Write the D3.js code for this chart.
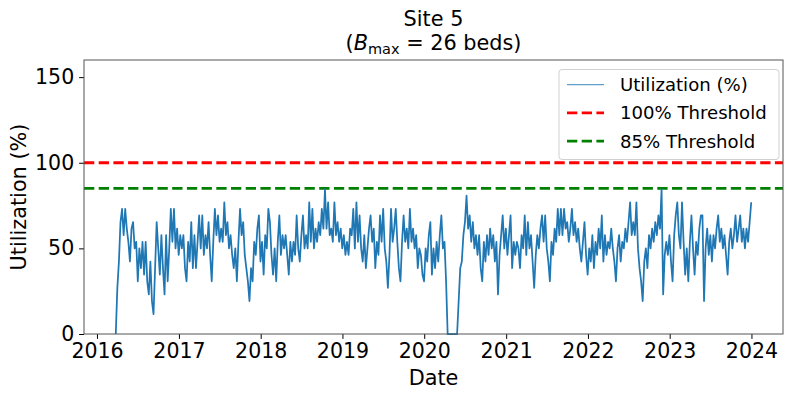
<!DOCTYPE html>
<html><head><meta charset="utf-8">
<script src="https://cdn.jsdelivr.net/npm/d3@7"></script>
<style>body{margin:0;background:#fff} svg{display:block} text{font-family:"DejaVu Sans",sans-serif;fill:#000}</style>
</head><body><svg id="chart" width="793" height="397"></svg>
<script>
// ---- data ----
const BED_MAX = 26;
const startDate = "2016-03-25";
const endDate = "2023-12-31";
// occupied beds, roughly weekly samples
const bedsPart1 = [0,7,11,17,19,15,19,16,14,11,16,17,13,14,8,13,10,14,9,14,8,6,11,5,3,10,17,13,9,15,10,6,15,8,13,19,14,19,13,16,12,15,13,15];
const bedsPart2 = [10,8,14,11,17,10,15,10,14,18,13,18,12,15,13,17,12,8,14,19,15,18,14,16,14,20,15,17,13,15,12,10,13,8,14,19,15,17,12,10,8,5,10,8,14,12,16,18,11,14,9,15,13,19];
const bedsPart3 = [17,12,9,13,8,14,18,12,15,13,15,12,9,14,11,14,12,18,13,11,15,18,13,15,13,20,14,19,13,16,14,17,15,19,16,22,16,20,15,16,14,20,15,17,14,16,13,15,12,14,12,16,15,19];
const bedsPart4 = [13,20,14,18,13,11,15,10,13,16,18,14,16,10,14,12,18,14,19,13,11,7,12,19,14,16,19,14,10,8,14,18,14,16,13,19,14,16,13,15,10,13,12,9,8,13,11,15,17,9,13,10,14,11];
const bedsPart5 = [15,18,13,14,8,0,0,0,0,0,0,0,5,10,11,15,17,21,16,18,14,17,13,15,12,15,10,8,14,11,15,12,16,13,15,11,14,6,12,15,18,13,16,12,15,18,10,14,12,14,13];
const bedsPart6 = [10,15,13,18,12,17,13,15,11,7,12,15,13,16,18,14,18,13,11,8,14,12,16,14,19,15,19,15,19,16,17,14,16,19,15,17,14,16,13,11,14,17,12,9,13,11,15,10,14,12,16];
const bedsPart7 = [13,18,11,15,12,14,13,16,13,11,8,13,15,11,14,13,16,14,17,20,15,17,15,20,13,10,8,5,11,13,10,15,13,16,14,17,15,18,16,22,6,12,14,12,15,11,8,15,18,20,15];
const bedsPart8 = [13,20,14,9,13,8,14,18,13,9,14,12,16,18,18,5,13,16,12,15,11,15,13,16,18,14,16,13,15,12,9,14,16,13,15,18,14,16,18,14,16,13,16,14,17,20];
const yTickValues = [0, 50, 100, 150];
const xTickYears = [2016, 2017, 2018, 2019, 2020, 2021, 2022, 2023, 2024];
const thresholdValues = [100, 85];
const thresholdLabels = ["100% Threshold", "85% Threshold"];
const thresholdColors = ["#ff0000", "#008000"];
const seriesLabel = "Utilization (%)";

// ---- layout ----
const M = {left: 84, top: 60, right: 783, bottom: 334};
const svg = d3.select("#chart");
const beds = [].concat(bedsPart1, bedsPart2, bedsPart3, bedsPart4, bedsPart5, bedsPart6, bedsPart7, bedsPart8);
const t0 = new Date(startDate + "T00:00:00"), t1 = new Date(endDate + "T00:00:00");
const n = beds.length;
const data = beds.map((b, i) => ({date: new Date(+t0 + (t1 - t0) * i / (n - 1)), value: b / BED_MAX * 100}));
const span = t1 - t0;
const x = d3.scaleTime().domain([new Date(+t0 - 0.05 * span), new Date(+t1 + 0.05 * span)]).range([M.left, M.right]);
const y = d3.scaleLinear().domain([0, 160]).range([M.bottom, M.top]);

// thresholds
thresholdValues.forEach((v, i) => {
  svg.append("line").attr("x1", M.left).attr("x2", M.right).attr("y1", y(v)).attr("y2", y(v))
    .attr("stroke", thresholdColors[i]).attr("stroke-width", 2.78).attr("stroke-dasharray", "10.3,4.4");
});

// series
const line = d3.line().x(d => x(d.date)).y(d => y(d.value));
svg.append("path").datum(data).attr("d", line).attr("fill", "none")
  .attr("stroke", "#1f77b4").attr("stroke-width", 1.75).attr("stroke-linejoin", "round");

// axes
const fs = 20.5;
const xAxis = d3.axisBottom(x).tickValues(xTickYears.map(yr => new Date(yr, 0, 1)))
  .tickFormat(d3.timeFormat("%Y")).tickSize(4.9).tickPadding(4.9);
const gx = svg.append("g").attr("transform", `translate(0,${M.bottom})`).call(xAxis);
gx.select(".domain").remove();
gx.selectAll("text").attr("font-size", fs).attr("font-family", "DejaVu Sans").attr("fill", "#000");
gx.selectAll("line").attr("stroke", "#000").attr("stroke-width", 1);

const yAxis = d3.axisLeft(y).tickValues(yTickValues).tickSize(4.9).tickPadding(4.9);
const gy = svg.append("g").attr("transform", `translate(${M.left},0)`).call(yAxis);
gy.select(".domain").remove();
gy.selectAll("text").attr("font-size", fs).attr("font-family", "DejaVu Sans").attr("fill", "#000");
gy.selectAll("line").attr("stroke", "#000").attr("stroke-width", 1);

// spines
svg.append("rect").attr("x", M.left).attr("y", M.top).attr("width", M.right - M.left).attr("height", M.bottom - M.top)
  .attr("fill", "none").attr("stroke", "#555").attr("stroke-width", 1);

// axis labels
svg.append("text").attr("x", (M.left + M.right) / 2).attr("y", 385).attr("text-anchor", "middle")
  .attr("font-size", 20.8).text("Date");
svg.append("text").attr("transform", `translate(26,${(M.top + M.bottom) / 2}) rotate(-90)`)
  .attr("text-anchor", "middle").attr("font-size", 20.8).text("Utilization (%)");

// title
const cx = (M.left + M.right) / 2;
svg.append("text").attr("x", cx).attr("y", 26).attr("text-anchor", "middle").attr("font-size", 20.8).text("Site 5");
const t2 = svg.append("text").attr("x", cx).attr("y", 50).attr("text-anchor", "middle").attr("font-size", 20.8);
t2.append("tspan").text("(");
t2.append("tspan").attr("font-style", "italic").text("B");
t2.append("tspan").attr("font-size", 14.5).attr("dy", 4).text("max");
t2.append("tspan").attr("dy", -4).text(" = " + BED_MAX + " beds)");

// legend
const lg = svg.append("g");
lg.append("rect").attr("x", 559).attr("y", 69.5).attr("width", 220).attr("height", 90).attr("rx", 3)
  .attr("fill", "#fff").attr("fill-opacity", 0.8).attr("stroke", "#d0d0d0").attr("stroke-width", 1);
const rows = [{label: seriesLabel, color: "#1f77b4", dash: null, w: 1.2, op: 0.7}]
  .concat(thresholdLabels.map((l, i) => ({label: l, color: thresholdColors[i], dash: "10.3,4.4", w: 2.78, op: 1})));
rows.forEach((r, i) => {
  const cy = 84.6 + i * 28.3;
  lg.append("line").attr("x1", 567).attr("x2", 604).attr("y1", cy).attr("y2", cy)
    .attr("stroke", r.color).attr("stroke-width", r.w).attr("stroke-opacity", r.op).attr("stroke-dasharray", r.dash);
  lg.append("text").attr("x", 620).attr("y", cy + 6.5).attr("font-size", 18.1).text(r.label);
});
</script></body></html>
